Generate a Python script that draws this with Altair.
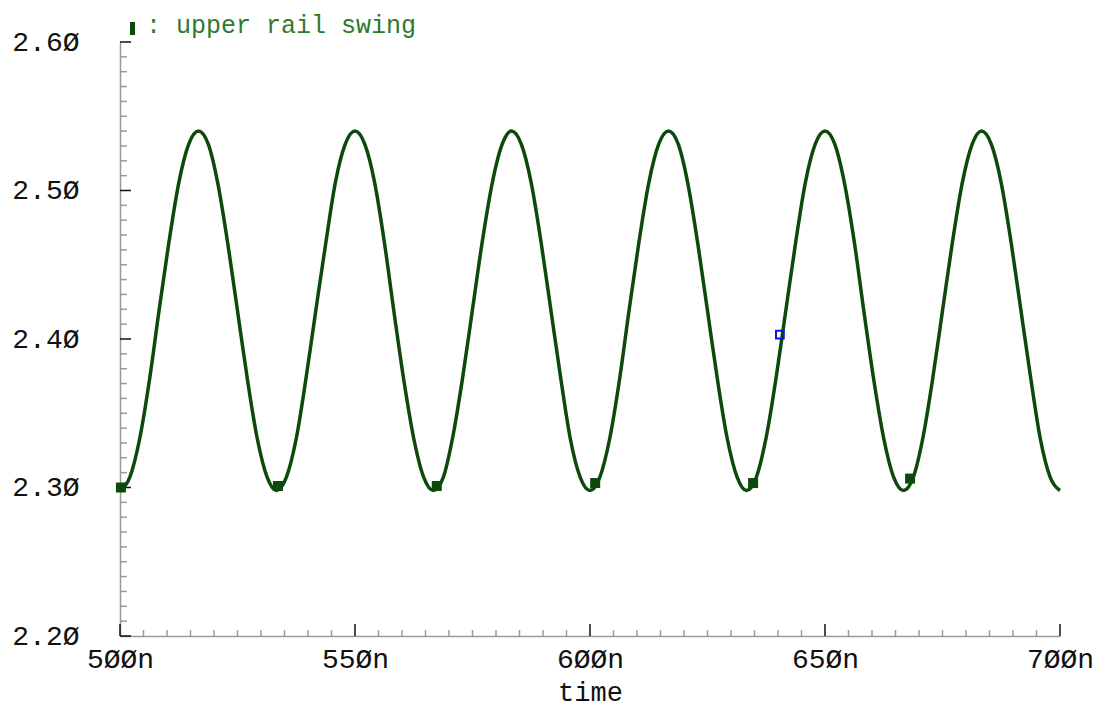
import altair as alt
import pandas as pd

# ---- waveform (time in ns, voltage in V) ----
time_ns = [
    500.0, 502.1, 504.2, 506.3, 508.3, 510.4, 512.5, 514.6, 516.7, 518.8, 520.8, 522.9, 525.0, 527.1, 529.2, 531.3,
    533.3, 535.4, 537.5, 539.6, 541.7, 543.8, 545.8, 547.9, 550.0, 552.1, 554.2, 556.3, 558.3, 560.4, 562.5, 564.6,
    566.7, 568.8, 570.8, 572.9, 575.0, 577.1, 579.2, 581.3, 583.3, 585.4, 587.5, 589.6, 591.7, 593.8, 595.8, 597.9,
    600.0, 602.1, 604.2, 606.3, 608.3, 610.4, 612.5, 614.6, 616.7, 618.8, 620.8, 622.9, 625.0, 627.1, 629.2, 631.3,
    633.3, 635.4, 637.5, 639.6, 641.7, 643.8, 645.8, 647.9, 650.0, 652.1, 654.2, 656.3, 658.3, 660.4, 662.5, 664.6,
    666.7, 668.8, 670.8, 672.9, 675.0, 677.1, 679.2, 681.3, 683.3, 685.4, 687.5, 689.6, 691.7, 693.8, 695.8, 697.9,
    700.0,
]
voltage = [
    2.298, 2.307, 2.333, 2.373, 2.419, 2.465, 2.505, 2.531, 2.540, 2.531, 2.505, 2.465, 2.419, 2.373, 2.333, 2.307,
    2.298, 2.307, 2.333, 2.374, 2.420, 2.465, 2.505, 2.531, 2.540, 2.531, 2.505, 2.464, 2.418, 2.372, 2.333, 2.307,
    2.298, 2.307, 2.334, 2.374, 2.420, 2.466, 2.505, 2.531, 2.540, 2.531, 2.505, 2.465, 2.419, 2.373, 2.333, 2.307,
    2.298, 2.307, 2.333, 2.373, 2.419, 2.465, 2.505, 2.531, 2.540, 2.531, 2.505, 2.465, 2.419, 2.373, 2.333, 2.307,
    2.298, 2.307, 2.334, 2.374, 2.420, 2.466, 2.505, 2.531, 2.540, 2.531, 2.504, 2.464, 2.418, 2.372, 2.333, 2.307,
    2.298, 2.307, 2.333, 2.373, 2.419, 2.465, 2.505, 2.531, 2.540, 2.531, 2.505, 2.465, 2.419, 2.373, 2.333, 2.307,
    2.298,
]
marker_t = [500.2, 533.6, 567.4, 601.1, 634.7, 668.1]
marker_v = [2.300, 2.301, 2.301, 2.303, 2.303, 2.306]
cursor_t = [640.4]
cursor_v = [2.403]

# ---- axis ticks ----
x_major = [500, 550, 600, 650, 700]
x_minor = [v for v in range(505, 700, 5) if v not in x_major]
y_major = [2.2, 2.3, 2.4, 2.5, 2.6]
y_minor = [round(2.2 + i * 0.01, 2) for i in range(1, 40) if i % 10 != 0]

legend_text = [": upper rail swing"]
x_title = "time"

FONT = "Liberation Mono"
LINE = "#0b4a0b"
W, H = 940, 594

xs = alt.Scale(domain=[500, 700], nice=False, zero=False)
ys = alt.Scale(domain=[2.2, 2.6], nice=False, zero=False)

wave = pd.DataFrame({"t": time_ns, "v": voltage})
marks = pd.DataFrame({"t": marker_t, "v": marker_v})
cursor = pd.DataFrame({"t": cursor_t, "v": cursor_v})

x_axis = alt.Axis(
    values=x_major, ticks=False, grid=False,
    labelExpr="replace(format(datum.value, 'd'), regexp('0', 'g'), 'Ø') + 'n'",
    domainColor="#9a9a9a", domainWidth=1.5,
    labelFont=FONT, labelFontSize=28, labelColor="#111111", labelPadding=9,
    labelFlush=False, labelOverlap=False,
    title=x_title, titleFont=FONT, titleFontSize=27, titleFontWeight="normal",
    titleColor="#111111", titlePadding=6)
y_axis = alt.Axis(
    values=y_major, ticks=False, grid=False,
    labelExpr="replace(format(datum.value, '.2f'), regexp('0', 'g'), 'Ø')",
    domainColor="#9a9a9a", domainWidth=1.5,
    labelFont=FONT, labelFontSize=28, labelColor="#111111", labelPadding=41,
    labelOverlap=False, labelFlush=False, title=None)

line = alt.Chart(wave).mark_line(color=LINE, strokeWidth=3.5, interpolate="monotone").encode(
    x=alt.X("t:Q", scale=xs, axis=x_axis),
    y=alt.Y("v:Q", scale=ys, axis=y_axis),
    order="t:Q",
)

pts = alt.Chart(marks).mark_square(color=LINE, size=100, opacity=1).encode(
    x=alt.X("t:Q", scale=xs, axis=x_axis), y=alt.Y("v:Q", scale=ys, axis=y_axis))

cur = alt.Chart(cursor).mark_square(filled=False, color="#1010ee", size=60, strokeWidth=2, opacity=1).encode(
    x=alt.X("t:Q", scale=xs, axis=x_axis), y=alt.Y("v:Q", scale=ys, axis=y_axis))

ymin = alt.Chart(pd.DataFrame({"v": y_minor})).mark_rule(color="#9a9a9a", strokeWidth=1.5).encode(
    y=alt.Y("v:Q", scale=ys, axis=y_axis), x=alt.value(0), x2=alt.value(7))
ymaj = alt.Chart(pd.DataFrame({"v": y_major})).mark_rule(color="#111111", strokeWidth=1.5).encode(
    y=alt.Y("v:Q", scale=ys, axis=y_axis), x=alt.value(0), x2=alt.value(11))
xmin = alt.Chart(pd.DataFrame({"t": x_minor})).mark_rule(color="#9a9a9a", strokeWidth=1.5).encode(
    x=alt.X("t:Q", scale=xs, axis=x_axis), y=alt.value(H), y2=alt.value(H - 6))
xmaj = alt.Chart(pd.DataFrame({"t": x_major})).mark_rule(color="#111111", strokeWidth=1.5).encode(
    x=alt.X("t:Q", scale=xs, axis=x_axis), y=alt.value(H), y2=alt.value(H - 12))

leg_df = pd.DataFrame({"label": legend_text})
leg_mark = alt.Chart(leg_df).mark_rect(color=LINE).encode(
    x=alt.value(10), x2=alt.value(15), y=alt.value(-20), y2=alt.value(-7))
leg_txt = alt.Chart(leg_df).mark_text(
    font=FONT, fontSize=25, color="#2e7a2e", align="left", baseline="alphabetic").encode(
    x=alt.value(26), y=alt.value(-9), text="label:N")

chart = alt.layer(line, ymin, ymaj, xmin, xmaj, pts, cur, leg_mark, leg_txt).properties(
    width=W, height=H,
    autosize=alt.AutoSizeParams(type="none"),
    padding={"left": 120, "top": 42, "right": 50, "bottom": 71},
    background="white",
).configure_view(stroke=None)

chart.save("out.html", embed_options={"renderer": "svg", "actions": False})
